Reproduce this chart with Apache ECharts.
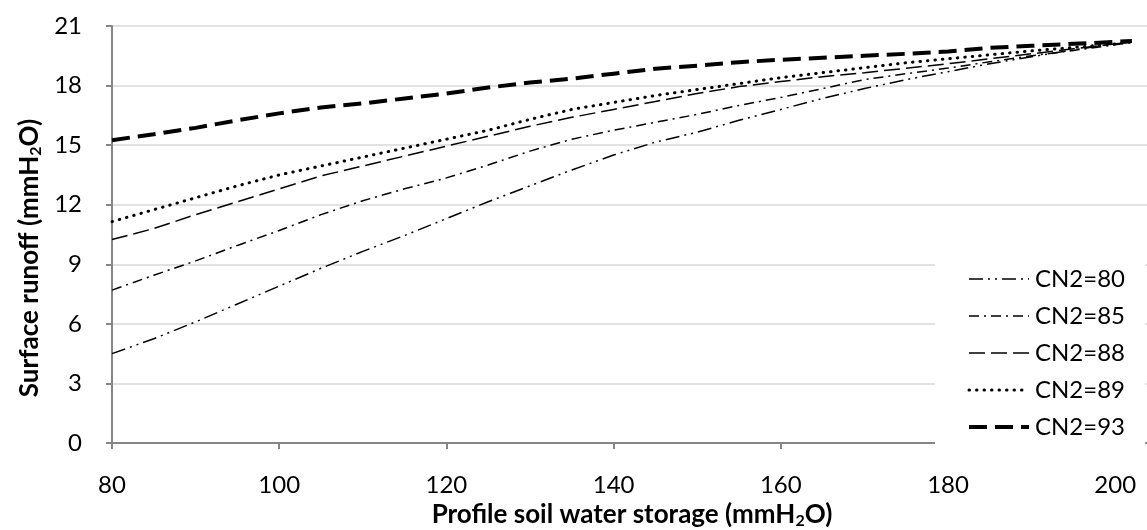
<!DOCTYPE html>
<html>
<head>
<meta charset="utf-8">
<script src="https://cdn.jsdelivr.net/npm/echarts@6/dist/echarts.min.js"></script>
<style>
  html, body { margin: 0; padding: 0; background: #fff; }
  #chart { width: 1147px; height: 530px; }
</style>
</head>
<body>
<div id="chart"></div>
<script>
// Profile soil water storage (mmH2O)
const storage = [80, 85, 90, 95, 100, 105, 110, 115, 120, 125, 130, 135, 140, 145,
                 150, 155, 160, 165, 170, 175, 180, 185, 190, 195, 200, 202];

// Surface runoff (mmH2O) for each curve number
const cn80 = [4.5, 5.25, 6.1, 7.0, 7.9, 8.8, 9.65, 10.45, 11.3, 12.15, 12.95, 13.75, 14.5, 15.15,
              15.65, 16.25, 16.8, 17.35, 17.85, 18.3, 18.7, 19.1, 19.45, 19.8, 20.1, 20.2];
const cn85 = [7.7, 8.45, 9.17, 9.95, 10.7, 11.5, 12.2, 12.8, 13.35, 14.0, 14.7, 15.3, 15.75, 16.15,
              16.55, 17.0, 17.4, 17.85, 18.3, 18.6, 18.88, 19.2, 19.5, 19.77, 20.05, 20.2];
const cn88 = [10.25, 10.8, 11.5, 12.15, 12.8, 13.45, 13.95, 14.45, 14.95, 15.45, 15.95, 16.4, 16.8, 17.2,
              17.6, 17.95, 18.2, 18.45, 18.65, 18.87, 19.1, 19.35, 19.6, 19.85, 20.1, 20.2];
const cn89 = [11.15, 11.75, 12.35, 12.95, 13.5, 13.95, 14.4, 14.85, 15.3, 15.75, 16.3, 16.8, 17.15, 17.5,
              17.8, 18.1, 18.4, 18.65, 18.9, 19.15, 19.35, 19.55, 19.75, 19.92, 20.1, 20.2];
const cn93 = [15.25, 15.55, 15.87, 16.25, 16.6, 16.9, 17.1, 17.35, 17.6, 17.9, 18.15, 18.35, 18.6, 18.85,
              19.0, 19.18, 19.3, 19.4, 19.5, 19.6, 19.72, 19.9, 20.0, 20.1, 20.2, 20.25];

const seriesNames = ['CN2=80', 'CN2=85', 'CN2=88', 'CN2=89', 'CN2=93'];
const xTicks = [80, 100, 120, 140, 160, 180, 200];
const yTicks = [0, 3, 6, 9, 12, 15, 18, 21];

const FONT = 'Lato, "Open Sans", sans-serif';

const pair = ys => storage.map((x, i) => [x, ys[i]]);

const lineStyles = [
  { width: 1.5, type: [14, 5, 2, 5, 2, 5] },          // long dash dot dot
  { width: 1.5, type: [10, 5, 2, 5] },                // dash dot
  { width: 1.5, type: [16, 6] },                      // long dash
  { width: 3, type: [0.5, 7], cap: 'round' },         // round dot
  { width: 4, type: [18, 8] }                         // heavy dash
];

const values = [cn80, cn85, cn88, cn89, cn93];

const chart = echarts.init(document.getElementById('chart'), null, { renderer: 'canvas' });

const titleRich = {
  b: { fontFamily: FONT, fontWeight: 'bold', fontSize: 26, fill: '#000', lineHeight: 30 },
  s: { fontFamily: FONT, fontWeight: 'bold', fontSize: 16, fill: '#000', lineHeight: 30, padding: [12, 0, 0, 0] }
};

chart.setOption({
  animation: false,
  backgroundColor: '#fff',
  textStyle: { fontFamily: FONT },
  grid: { left: 112, right: 0, top: 26, bottom: 87, containLabel: false },
  xAxis: {
    type: 'value',
    min: 80,
    max: 203.8,
    interval: 20,
    axisLine: { lineStyle: { color: '#868686', width: 2 } },
    axisTick: { show: true, length: 6, lineStyle: { color: '#868686', width: 2 } },
    splitLine: { show: false },
    axisLabel: {
      color: '#000', fontSize: 24, fontFamily: FONT, margin: 30,
      showMaxLabel: false,
      formatter: v => (xTicks.indexOf(v) >= 0 ? String(v) : '')
    }
  },
  yAxis: {
    type: 'value',
    min: 0,
    max: 21,
    interval: 3,
    axisLine: { show: true, lineStyle: { color: '#868686', width: 2 } },
    axisTick: { show: true, length: 6, lineStyle: { color: '#868686', width: 2 } },
    splitLine: { show: true, lineStyle: { color: '#d9d9d9', width: 1.5 } },
    axisLabel: {
      color: '#000', fontSize: 24, fontFamily: FONT, margin: 30,
      formatter: v => (yTicks.indexOf(v) >= 0 ? String(v) : '')
    }
  },
  legend: {
    orient: 'vertical',
    left: 935,
    top: 252,
    padding: [15, 20, 12, 32],
    backgroundColor: '#fff',
    itemWidth: 60,
    itemHeight: 14,
    itemGap: 13,
    itemStyle: { opacity: 0 },
    lineStyle: { width: 'inherit', type: 'inherit', cap: 'inherit' },
    textStyle: { color: '#000', fontSize: 24, fontFamily: FONT, padding: [0, 0, 0, 1] },
    data: seriesNames
  },
  graphic: [
    {
      type: 'text',
      x: 30, y: 258,
      rotation: Math.PI / 2,
      style: {
        text: '{b|Surface runoff (mmH}{s|2}{b|O)}',
        align: 'center', verticalAlign: 'middle',
        rich: titleRich
      }
    },
    {
      type: 'text',
      x: 632, y: 515,
      style: {
        text: '{b|Profile soil water storage (mmH}{s|2}{b|O)}',
        align: 'center', verticalAlign: 'middle',
        rich: titleRich
      }
    }
  ],
  series: seriesNames.map((name, i) => ({
    name,
    type: 'line',
    data: pair(values[i]),
    symbol: 'none',
    smooth: false,
    lineStyle: Object.assign({ color: '#000' }, lineStyles[i]),
    itemStyle: { color: '#000' },
    z: 2 + i
  }))
});
</script>
</body>
</html>
